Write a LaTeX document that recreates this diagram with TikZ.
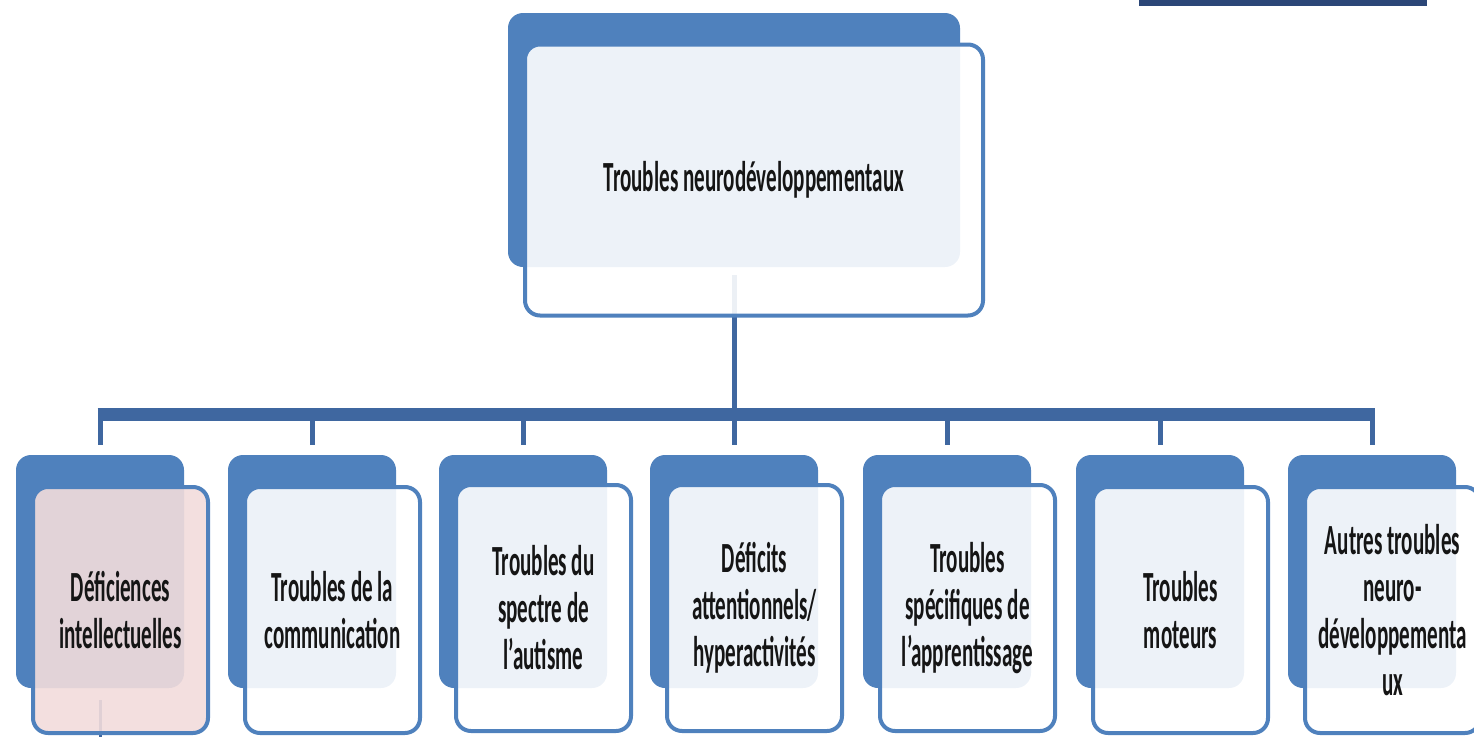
\documentclass[tikz,border=0pt]{standalone}
\usepackage{fontspec}
\newfontfamily\cfont[FakeStretch=0.49]{Carlito}
\definecolor{boxblue}{HTML}{4F81BD}
\definecolor{linkblue}{HTML}{3F67A0}
\definecolor{navy}{HTML}{2B4677}
\definecolor{pinkfill}{HTML}{F2DCDB}
\definecolor{txt}{HTML}{151515}
\tikzset{
  backbox/.style={rectangle, rounded corners=15pt, fill=boxblue, inner sep=0pt},
  frontbox/.style={rectangle, rounded corners=15pt, draw=boxblue, line width=4pt,
    fill=white, fill opacity=0.9, text opacity=1, inner sep=0pt, align=center,
    text=txt, font=\cfont\bfseries\fontsize{43}{47}\selectfont},
  conn/.style={draw=linkblue, line width=5pt},
  barline/.style={draw=linkblue, line width=13pt},
  faint/.style={draw=linkblue, line width=3pt}
}
\begin{document}
\begin{tikzpicture}[x=1pt,y=-1pt]
\useasboundingbox (0,0) rectangle (1474,736);
\node[fill=navy, inner sep=0pt, minimum width=288pt, minimum height=7pt] (topbar) at (1283,2.5) {};
% top box back
\node[backbox, minimum width=452pt, minimum height=254pt] (topb) at (734,140) {};
% children back boxes
\foreach \i/\t in {1/100,2/312,3/523,4/734,5/947,6/1160,7/1372}{
  \node[backbox, minimum width=168pt, minimum height=233pt] (b\i) at (\t,571.5) {};
}
\coordinate (barL) at (b1.north |- 0,414);
\coordinate (barR) at (b7.north |- 0,414);
\coordinate (barM) at (topb.south |- 0,414);
% connectors
\draw[conn] ([yshift=-8pt]topb.south) -- (barM);
\draw[barline] ([xshift=-2.5pt]barL) -- ([xshift=2.5pt]barR);
\foreach \i in {1,...,7}{
  \draw[conn] (b\i.north |- 0,414) -- ([yshift=10pt]b\i.north);
}
\coordinate (offbottom) at (b1.south |- 0,745);
\draw[faint] ([yshift=-12pt]b1.south) -- (offbottom);
% front boxes
\node[frontbox, minimum width=458pt, minimum height=271pt] (topf) at (754,180) {Troubles neurodéveloppementaux};
\node[frontbox, fill=pinkfill, minimum width=175pt, minimum height=246pt] (f1) at (120.5,610) {Déficiences\\intellectuelles};
\node[frontbox, minimum width=175pt, minimum height=246pt] (f2) at (332.5,610) {Troubles de la\\communication};
\node[frontbox, minimum width=175pt, minimum height=246pt] (f3) at (543.5,608) {Troubles du\\spectre de\\l’autisme};
\node[frontbox, minimum width=175pt, minimum height=246pt] (f4) at (754.5,608) {Déficits\\attentionnels/\\hyperactivités};
\node[frontbox, minimum width=175pt, minimum height=246pt] (f5) at (967.5,608) {Troubles\\spécifiques de\\l’apprentissage};
\node[frontbox, minimum width=175pt, minimum height=246pt] (f6) at (1180.5,610) {Troubles\\moteurs};
\node[frontbox, minimum width=175pt, minimum height=246pt] (f7) at (1392.5,610) {Autres troubles\\neuro-\\développementa\\ux};
\end{tikzpicture}
\end{document}
